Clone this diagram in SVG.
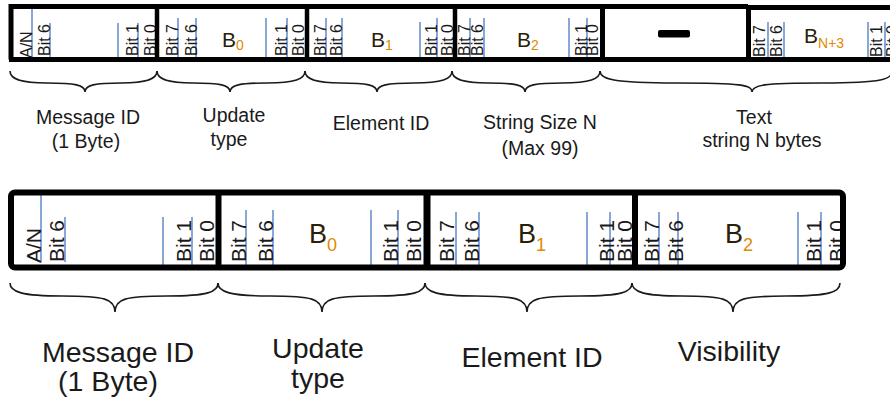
<svg xmlns="http://www.w3.org/2000/svg" width="890" height="402" viewBox="0 0 890 402">
<defs>
<style>
.bl{stroke:#4a78c2;stroke-width:1.3;fill:none}
.bt{font-family:"Liberation Sans",Arial,sans-serif;font-size:16px;fill:#1a1a1a}
.bt2{font-family:"Liberation Sans",Arial,sans-serif;font-size:21px;fill:#1a1a1a}
.bb{font-family:"Liberation Sans",Arial,sans-serif;fill:#2a2008}
.sub{fill:#e08a00}
.lab{font-family:"Liberation Sans",Arial,sans-serif;font-size:19.5px;fill:#1a1a1a;text-anchor:middle}
.lab2{font-family:"Liberation Sans",Arial,sans-serif;font-size:28.5px;fill:#1a1a1a;text-anchor:middle}
.br{stroke:#1a1a1a;stroke-width:1.6;fill:none}
.bx{stroke:#000;fill:none}
</style>
</defs>
<rect width="890" height="402" fill="#fff"/>

<!-- top row -->
<g id="top-msgid">
<line class="bl" x1="32" y1="5" x2="32" y2="58"/>
<line class="bl" x1="50" y1="23" x2="50" y2="58"/>
<line class="bl" x1="118" y1="23" x2="118" y2="59"/>
<line class="bl" x1="138" y1="23" x2="138" y2="58"/>
<text class="bt" transform="translate(32,58) rotate(-90)">A/N</text>
<text class="bt" transform="translate(50,56) rotate(-90)">Bit 6</text>
<text class="bt" transform="translate(138,56) rotate(-90)">Bit 1</text>
<text class="bt" transform="translate(156,56) rotate(-90)">Bit 0</text>
</g>
<g id="top-b0">
<line class="bl" x1="178" y1="18" x2="178" y2="58"/>
<line class="bl" x1="196" y1="18" x2="196" y2="58"/>
<line class="bl" x1="266" y1="18" x2="266" y2="58"/>
<line class="bl" x1="287" y1="18" x2="287" y2="58"/>
<text class="bt" transform="translate(178,56) rotate(-90)">Bit 7</text>
<text class="bt" transform="translate(197,56) rotate(-90)">Bit 6</text>
<text class="bt" transform="translate(287,56) rotate(-90)">Bit 1</text>
<text class="bt" transform="translate(304,56) rotate(-90)">Bit 0</text>
<text class="bb" x="222" y="47" font-size="21">B<tspan class="sub" font-size="14" dy="3">0</tspan></text>
</g>
<g id="top-b1">
<line class="bl" x1="326" y1="18" x2="326" y2="57"/>
<line class="bl" x1="342" y1="18" x2="342" y2="57"/>
<line class="bl" x1="420" y1="22" x2="420" y2="57"/>
<line class="bl" x1="437" y1="18" x2="437" y2="57"/>
<text class="bt" transform="translate(326,56) rotate(-90)">Bit 7</text>
<text class="bt" transform="translate(342,56) rotate(-90)">Bit 6</text>
<text class="bt" transform="translate(437,56) rotate(-90)">Bit 1</text>
<text class="bt" transform="translate(453,56) rotate(-90)">Bit 0</text>
<text class="bb" x="371" y="47" font-size="21">B<tspan class="sub" font-size="14" dy="3">1</tspan></text>
</g>
<g id="top-b2">
<line class="bl" x1="470" y1="18" x2="470" y2="57"/>
<line class="bl" x1="484" y1="18" x2="484" y2="57"/>
<line class="bl" x1="569" y1="18" x2="569" y2="57"/>
<line class="bl" x1="587" y1="18" x2="587" y2="57"/>
<text class="bt" transform="translate(470,56) rotate(-90)">Bit 7</text>
<text class="bt" transform="translate(483,56) rotate(-90)">Bit 6</text>
<text class="bt" transform="translate(587,56) rotate(-90)">Bit 1</text>
<text class="bt" transform="translate(598,56) rotate(-90)">Bit 0</text>
<text class="bb" x="517" y="47" font-size="21">B<tspan class="sub" font-size="14" dy="3">2</tspan></text>
</g>
<g id="top-dots">
<rect x="658" y="30" width="32" height="7.5" rx="2" fill="#000"/>
</g>
<g id="top-bn3">
<line class="bl" x1="768" y1="22" x2="768" y2="60"/>
<line class="bl" x1="784" y1="22" x2="784" y2="60"/>
<line class="bl" x1="868" y1="22" x2="868" y2="60"/>
<line class="bl" x1="885" y1="22" x2="885" y2="60"/>
<text class="bt" transform="translate(765,57) rotate(-90)">Bit 7</text>
<text class="bt" transform="translate(782,57) rotate(-90)">Bit 6</text>
<text class="bt" transform="translate(882,57) rotate(-90)">Bit 1</text>
<text class="bt" transform="translate(898,57) rotate(-90)">Bit 0</text>
<text class="bb" x="804" y="43" font-size="21">B<tspan class="sub" font-size="14" dy="5">N+3</tspan></text>
</g>
<g id="top-frame" class="bx">
<path d="M11,59.5 V6.5 H748" stroke-width="5"/>
<path d="M748,7.5 H892" stroke-width="5"/>
<path d="M9,59.5 H892" stroke-width="5"/>
<line x1="157" y1="5" x2="157" y2="61" stroke-width="4.5"/>
<line x1="307" y1="5" x2="307" y2="61" stroke-width="4.5"/>
<line x1="455" y1="5" x2="455" y2="61" stroke-width="4.5"/>
<line x1="602.5" y1="5" x2="602.5" y2="61" stroke-width="5"/>
<line x1="748.5" y1="5" x2="748.5" y2="61" stroke-width="5"/>
</g>

<!-- bottom row -->
<g id="bot-msgid">
<line class="bl" x1="41" y1="192" x2="41" y2="262"/>
<line class="bl" x1="65" y1="217" x2="65" y2="262"/>
<line class="bl" x1="163" y1="217" x2="163" y2="266"/>
<line class="bl" x1="192" y1="217" x2="192" y2="266"/>
<text class="bt2" transform="translate(41,263) rotate(-90)">A/N</text>
<text class="bt2" transform="translate(64,262) rotate(-90)">Bit 6</text>
<text class="bt2" transform="translate(191,262) rotate(-90)">Bit 1</text>
<text class="bt2" transform="translate(214,262) rotate(-90)">Bit 0</text>
</g>
<g id="bot-b0">
<line class="bl" x1="246" y1="210" x2="246" y2="265"/>
<line class="bl" x1="273" y1="210" x2="273" y2="265"/>
<line class="bl" x1="371" y1="210" x2="371" y2="267"/>
<line class="bl" x1="398" y1="210" x2="398" y2="267"/>
<text class="bt2" transform="translate(246,262) rotate(-90)">Bit 7</text>
<text class="bt2" transform="translate(273,262) rotate(-90)">Bit 6</text>
<text class="bt2" transform="translate(398,262) rotate(-90)">Bit 1</text>
<text class="bt2" transform="translate(421,262) rotate(-90)">Bit 0</text>
<text class="bb" x="309" y="243" font-size="27">B<tspan class="sub" font-size="18" dy="8">0</tspan></text>
</g>
<g id="bot-b1">
<line class="bl" x1="456" y1="212" x2="456" y2="266"/>
<line class="bl" x1="479" y1="212" x2="479" y2="266"/>
<line class="bl" x1="587" y1="212" x2="587" y2="266"/>
<line class="bl" x1="610" y1="212" x2="610" y2="266"/>
<text class="bt2" transform="translate(454,262) rotate(-90)">Bit 7</text>
<text class="bt2" transform="translate(479,262) rotate(-90)">Bit 6</text>
<text class="bt2" transform="translate(614,262) rotate(-90)">Bit 1</text>
<text class="bt2" transform="translate(632,262) rotate(-90)">Bit 0</text>
<text class="bb" x="518" y="243" font-size="27">B<tspan class="sub" font-size="18" dy="8">1</tspan></text>
</g>
<g id="bot-b2">
<line class="bl" x1="659" y1="212" x2="659" y2="266"/>
<line class="bl" x1="678" y1="212" x2="678" y2="266"/>
<line class="bl" x1="798" y1="212" x2="798" y2="266"/>
<line class="bl" x1="821" y1="212" x2="821" y2="266"/>
<text class="bt2" transform="translate(659,262) rotate(-90)">Bit 7</text>
<text class="bt2" transform="translate(683,262) rotate(-90)">Bit 6</text>
<text class="bt2" transform="translate(821,262) rotate(-90)">Bit 1</text>
<text class="bt2" transform="translate(844,262) rotate(-90)">Bit 0</text>
<text class="bb" x="725" y="243" font-size="27">B<tspan class="sub" font-size="18" dy="8">2</tspan></text>
</g>
<g id="bot-frame" class="bx">
<rect x="11" y="192.5" width="832" height="75" rx="4" stroke-width="6"/>
<line x1="218.5" y1="190" x2="218.5" y2="270" stroke-width="6"/>
<line x1="427" y1="190" x2="427" y2="270" stroke-width="7"/>
<line x1="635" y1="190" x2="635" y2="270" stroke-width="6"/>
</g>

<!-- braces -->
<g id="braces" class="br">
<path d="M10,71 C10,79 20,83 47,83 C75,83 85,85 85,92 C85,85 95,83 121,83 C147,83 157,79 157,71"/>
<path d="M157,71 C157,79 167,83 193,83 C220,83 230,85 230,92 C230,85 240,83 267,83 C295,83 305,79 305,71"/>
<path d="M305,71 C305,79 315,83 341,83 C367,83 377,85 377,92 C377,85 387,83 414,83 C442,83 452,79 452,71"/>
<path d="M452,71 C452,79 462,83 488,83 C515,83 525,85 525,92 C525,85 535,83 562,83 C590,83 600,79 600,71"/>
<path d="M600,71 C600,79 612,83 676,83 C742,83 752,85 752,92 C752,85 762,83 822,83 C884,83 892,79 892,71"/>
<path d="M10,283 C10,292 22,296 62,296 C105,296 115,299 115,312 C115,299 125,296 167,296 C208,296 218,292 218,283"/>
<path d="M218,283 C218,292 230,296 270,296 C312,296 322,299 322,312 C322,299 332,296 374,296 C415,296 425,292 425,283"/>
<path d="M425,283 C425,292 437,296 476,296 C517,296 527,299 527,312 C527,299 537,296 580,296 C622,296 632,292 632,283"/>
<path d="M632,283 C632,292 644,296 682,296 C723,296 733,299 733,312 C733,299 743,296 786,296 C830,296 840,292 840,283"/>
</g>

<!-- labels -->
<g id="top-labels">
<text class="lab" x="88" y="124">Message ID</text>
<text class="lab" x="86" y="148">(1 Byte)</text>
<text class="lab" x="234" y="122">Update</text>
<text class="lab" x="229" y="146">type</text>
<text class="lab" x="381" y="130">Element ID</text>
<text class="lab" x="540" y="129">String Size N</text>
<text class="lab" x="540" y="155">(Max 99)</text>
<text class="lab" x="754" y="124">Text</text>
<text class="lab" x="762" y="147">string N bytes</text>
</g>
<g id="bottom-labels">
<text class="lab2" x="118" y="362">Message ID</text>
<text class="lab2" x="108" y="391">(1 Byte)</text>
<text class="lab2" x="318" y="358">Update</text>
<text class="lab2" x="318" y="388">type</text>
<text class="lab2" x="532" y="367">Element ID</text>
<text class="lab2" x="729" y="361">Visibility</text>
</g>
</svg>
